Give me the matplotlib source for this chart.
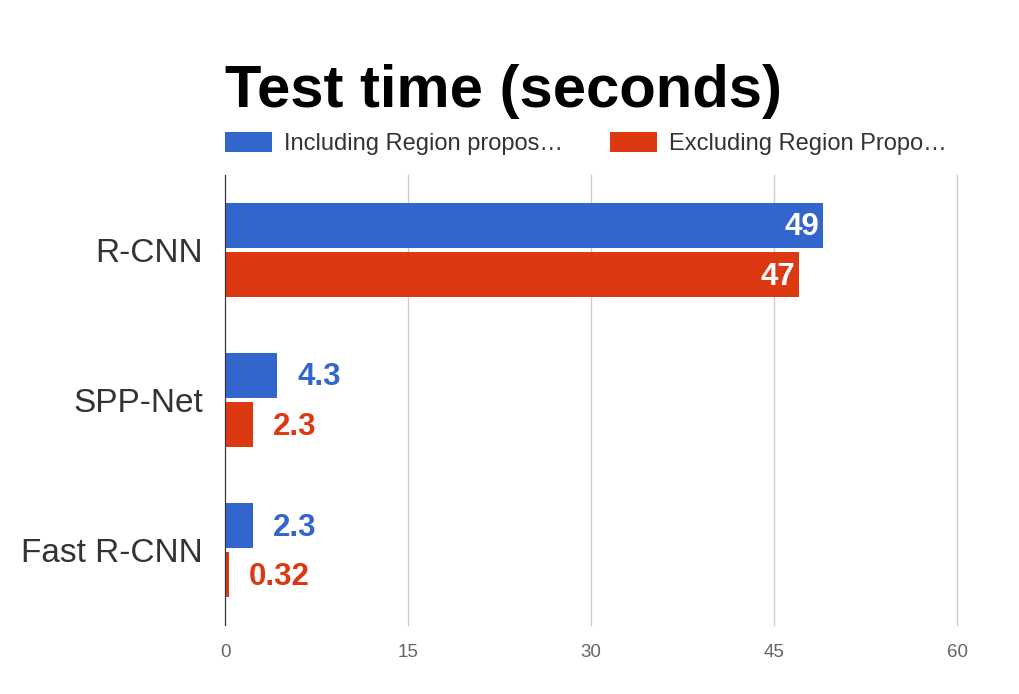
import matplotlib.pyplot as plt
import numpy as np

plt.rcParams['font.family'] = ['Liberation Sans', 'DejaVu Sans']

methods = ["R-CNN", "SPP-Net", "Fast R-CNN"]
incl = [49, 4.3, 2.3]
excl = [47, 2.3, 0.32]
incl_txt = ["49", "4.3", "2.3"]
excl_txt = ["47", "2.3", "0.32"]
xticks = [0, 15, 30, 45, 60]

blue = "#3366CC"
red = "#DC3912"

fig = plt.figure(figsize=(10.2, 6.94), dpi=100)
ax = fig.add_axes([0.2206, 0.0994, 0.718, 0.6485])

y = np.arange(len(methods))
h = 0.3
ax.barh(y - h/2 - 0.013, incl, height=h, color=blue, label="Including Region propos…", zorder=3)
ax.barh(y + h/2 + 0.013, excl, height=h, color=red, label="Excluding Region Propo…", zorder=3)

for i in range(len(methods)):
    # big values go inside the bar in white, small ones outside in bar colour
    if incl[i] > 20:
        ax.text(incl[i] - 0.3, y[i] - h/2, incl_txt[i], ha="right", va="center",
                color="white", fontsize=22.5, fontweight="bold", zorder=4)
    else:
        ax.text(incl[i] + 1.6, y[i] - h/2, incl_txt[i], ha="left", va="center",
                color=blue, fontsize=22.5, fontweight="bold", zorder=4)
    if excl[i] > 20:
        ax.text(excl[i] - 0.3, y[i] + h/2 + 0.03, excl_txt[i], ha="right", va="center",
                color="white", fontsize=22.5, fontweight="bold", zorder=4)
    else:
        ax.text(excl[i] + 1.6, y[i] + h/2 + 0.03, excl_txt[i], ha="left", va="center",
                color=red, fontsize=22.5, fontweight="bold", zorder=4)

ax.set_xlim(0, 60)
ax.set_ylim(2.5, -0.5)
ax.set_xticks(xticks)
ax.set_xticklabels([str(v) for v in xticks], color="#666666", fontsize=13.5)
ax.set_yticks(y)
ax.set_yticklabels(methods, fontsize=24, color="#333333")
ax.tick_params(axis="both", length=0)
ax.tick_params(axis="x", pad=14)
ax.tick_params(axis="y", pad=16)
ax.grid(axis="x", color="#cccccc", linewidth=1, zorder=0)
for gl in ax.get_xgridlines():
    gl.set_clip_on(False)
for s in ["top", "right", "bottom"]:
    ax.spines[s].set_visible(False)
ax.spines["left"].set_color("#333333")
ax.spines["left"].set_zorder(5)

fig.text(0.2206, 0.868, "Test time (seconds)", fontsize=43, fontweight="bold",
         ha="left", va="center", color="black")

fig.legend(loc="center left", bbox_to_anchor=(0.2206, 0.793), ncol=2, frameon=False,
           fontsize=17, handlelength=2.0, handleheight=0.9, columnspacing=2.0,
           labelcolor="#333333", borderpad=0, borderaxespad=0, handletextpad=0.5)

fig.savefig("out.png", dpi=100)
